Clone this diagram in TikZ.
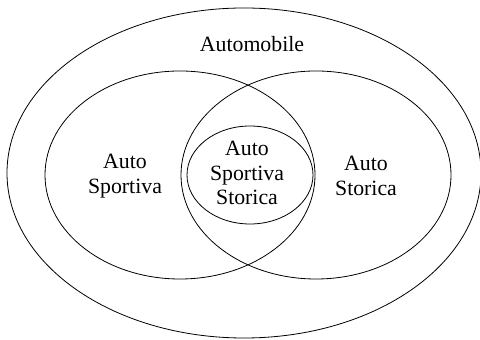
\documentclass[tikz,border=0pt]{standalone}
\usepackage{fontspec}
\setmainfont{Liberation Serif}
\usepackage{tikz}
\usetikzlibrary{positioning}

\begin{document}
\begin{tikzpicture}[x=0.5pt, y=-0.5pt, set/.style = {draw, line width=0.4pt}, lbl/.style = {align=center, inner sep=0pt, font=\fontsize{10.9}{12.4}\selectfont}]
          \useasboundingbox (0,0) rectangle (480,340);
          \coordinate (all) at (244,173);
          \coordinate (sp) at (180,175);
          \coordinate (st) at (316,175);
          \coordinate (both) at (250,175);
          \draw[set] (all) ellipse [x radius=118.5pt, y radius=82.5pt];
          \draw[set] (sp) ellipse [x radius=67.5pt, y radius=52pt];
          \draw[set] (st) ellipse [x radius=67.5pt, y radius=52pt];
          \draw[set] (both) ellipse [x radius=31.5pt, y radius=24.5pt];
          \node[lbl] (automobile) at (252,44) {Automobile};
          \node[lbl] (sportiva) at (125,176) {Auto\\Sportiva};
          \node[lbl] (storica) at (366,176) {Auto\\Storica};
          \node[lbl] (sportstor) at (247,173) {Auto\\Sportiva\\Storica};
        \end{tikzpicture}
\end{document}
